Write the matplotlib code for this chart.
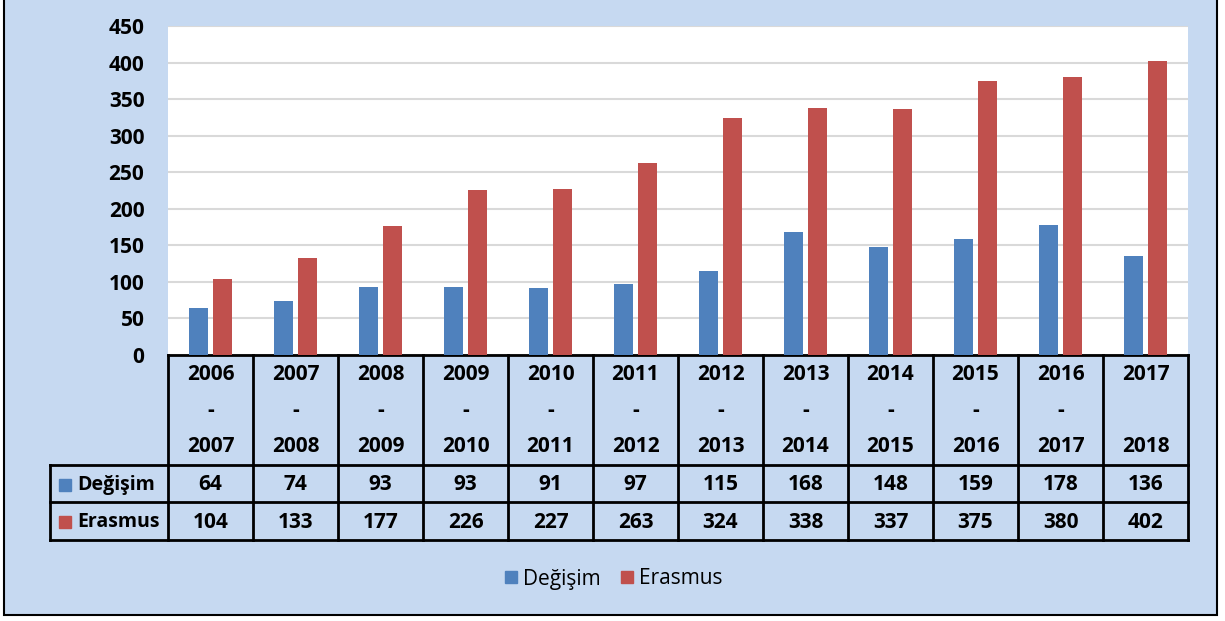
import matplotlib.pyplot as plt
from matplotlib.patches import Rectangle, Patch
import numpy as np

plt.rcParams['font.family'] = ['Open Sans', 'DejaVu Sans']

# data
periods = ['2006\n-\n2007', '2007\n-\n2008', '2008\n-\n2009', '2009\n-\n2010',
           '2010\n-\n2011', '2011\n-\n2012', '2012\n-\n2013', '2013\n-\n2014',
           '2014\n-\n2015', '2015\n-\n2016', '2016\n-\n2017', '2017\n\n2018']
degisim = [64, 74, 93, 93, 91, 97, 115, 168, 148, 159, 178, 136]
erasmus = [104, 133, 177, 226, 227, 263, 324, 338, 337, 375, 380, 402]
series_names = ['Değişim', 'Erasmus']
colors = ['#4F81BD', '#C0504D']

W, H = 1225, 621
fig = plt.figure(figsize=(W / 100, H / 100), dpi=100)
fig.patch.set_facecolor('white')
# light blue chart area with black border
fig.patches.append(Rectangle((4 / W, 1 - 615 / H), 1213 / W, 625 / H,
                             transform=fig.transFigure, facecolor='#C6D9F1',
                             edgecolor='black', lw=1.5, zorder=-5))

ax = fig.add_axes([168 / W, 1 - 355 / H, 1020 / W, 329 / H])
ax.set_facecolor('white')

x = np.arange(len(periods))
bw = 0.224
ax.bar(x - 0.141, degisim, bw, color=colors[0], zorder=3)
ax.bar(x + 0.141, erasmus, bw, color=colors[1], zorder=3)

fs = 15
ax.set_xlim(-0.5, len(periods) - 0.5)
ax.set_ylim(0, 450)
ax.set_yticks(np.arange(0, 451, 50))
ax.set_xticks([])
ax.yaxis.grid(True, color='#D9D9D9', lw=1.5, zorder=0)
ax.tick_params(axis='y', length=0, pad=17, labelsize=fs)
for lab in ax.get_yticklabels():
    lab.set_fontweight('bold')
for s in ['left', 'right', 'top']:
    ax.spines[s].set_visible(False)
ax.spines['bottom'].set_color('black')
ax.spines['bottom'].set_linewidth(2)


# data table under the axis, pixel rows converted to axes fraction
def ay(ypx):
    return (355 - ypx) / 329


def dx(xpx):
    return -0.5 + (xpx - 168) / 85


tr = ax.get_xaxis_transform()
lkw = dict(color='black', lw=2, transform=tr, clip_on=False)
left = dx(50)
right = len(periods) - 0.5
for yp in [465, 502, 540]:
    ax.plot([left, right], [ay(yp), ay(yp)], **lkw)
for k in range(len(periods) + 1):
    ax.plot([k - 0.5, k - 0.5], [0, ay(540)], **lkw)
ax.plot([left, left], [ay(465), ay(540)], **lkw)

tkw = dict(transform=tr, ha='center', va='center', fontsize=fs,
           fontweight='bold', clip_on=False)
for i, p in enumerate(periods):
    parts = p.split('\n')
    for part, yp in zip(parts, [374, 410, 447]):
        ax.text(i, ay(yp), part, **tkw)
    ax.text(i, ay(485), str(degisim[i]), **tkw)
    ax.text(i, ay(522), str(erasmus[i]), **tkw)

for name, c, yp in zip(series_names, colors, [485, 522]):
    ax.plot([dx(65)], [ay(yp)], marker='s', ms=9, color=c,
            transform=tr, clip_on=False)
    ax.text(dx(77), ay(yp), name, transform=tr, ha='left', va='center',
            fontsize=14, fontweight='bold', clip_on=False)

handles = [Patch(color=c, label=n) for n, c in zip(series_names, colors)]
fig.legend(handles=handles, loc='center', bbox_to_anchor=(614 / W, 1 - 579 / H),
           ncol=2, frameon=False, fontsize=15, handlelength=0.55,
           handleheight=0.55, handletextpad=0.3, columnspacing=1.0)

fig.savefig('out.png', dpi=100)
